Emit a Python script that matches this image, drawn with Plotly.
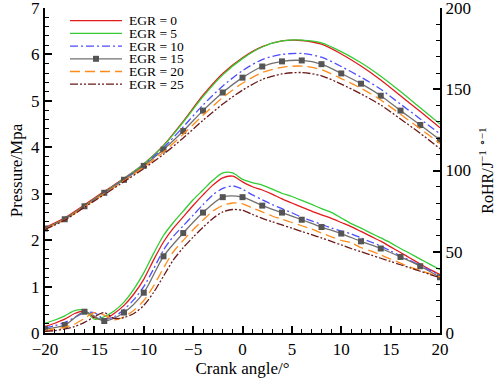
import plotly.graph_objects as go

# ---------------- data ----------------
labels = ["EGR = 0", "EGR = 5", "EGR = 10", "EGR = 15", "EGR = 20", "EGR = 25"]

# pressure (MPa), read every 2 degrees
angle_p = [-20, -18, -16, -14, -12, -10, -8, -6, -4, -2, 0, 2, 4, 6, 8, 10, 12, 14, 16, 18, 20]
p_egr0 = [2.27, 2.48, 2.76, 3.05, 3.33, 3.64, 4.04, 4.56, 5.12, 5.59, 5.93, 6.17, 6.29, 6.30, 6.22, 6.01, 5.75, 5.45, 5.11, 4.77, 4.42]
p_egr5 = [2.25, 2.46, 2.74, 3.03, 3.32, 3.64, 4.03, 4.54, 5.09, 5.56, 5.91, 6.16, 6.29, 6.31, 6.25, 6.06, 5.82, 5.53, 5.20, 4.85, 4.50]
p_egr10 = [2.25, 2.45, 2.73, 3.02, 3.31, 3.62, 3.99, 4.44, 4.91, 5.32, 5.65, 5.89, 6.00, 6.02, 5.94, 5.74, 5.51, 5.25, 4.93, 4.61, 4.29]
p_egr15 = [2.25, 2.45, 2.73, 3.02, 3.30, 3.60, 3.95, 4.35, 4.79, 5.18, 5.50, 5.74, 5.85, 5.87, 5.79, 5.59, 5.37, 5.11, 4.79, 4.48, 4.16]
p_egr20 = [2.24, 2.44, 2.72, 3.00, 3.28, 3.57, 3.90, 4.28, 4.69, 5.07, 5.38, 5.61, 5.72, 5.75, 5.67, 5.48, 5.27, 5.02, 4.71, 4.40, 4.08]
p_egr25 = [2.23, 2.43, 2.71, 2.98, 3.26, 3.54, 3.85, 4.20, 4.58, 4.93, 5.23, 5.46, 5.58, 5.61, 5.54, 5.36, 5.15, 4.91, 4.61, 4.30, 3.97]

# rate of heat release (J/deg), read every degree
angle_h = list(range(-20, 21))
h_egr0 = [4, 6, 8.5, 12, 13.5, 9.5, 8.5, 12, 17, 24, 33, 45, 56, 64.5, 71.5, 78.5, 85, 91, 95.5, 96.5, 93,
          90, 88, 85.5, 82.5, 80, 77.5, 75, 72.7, 70.5, 68, 65.5, 62.5, 59.5, 56.5, 53, 49.5, 46, 42.5, 39, 36]
h_egr5 = [6, 8, 10.5, 13.8, 14, 8.5, 10, 13.5, 19, 27, 37, 49, 60, 68, 75, 82, 88, 94, 98.5, 98.5, 94.5,
          92.5, 91, 88.5, 86, 84, 81.6, 79.1, 76.6, 74.2, 70.8, 67.3, 64.5, 61.5, 58.5, 55.5, 52, 48.8, 45.5, 42.2, 39]
h_egr10 = [3, 4.5, 6.5, 9.5, 12.5, 12.5, 8.5, 10, 14.5, 20.5, 28.5, 39.5, 51, 59.5, 66, 72.5, 79, 85, 89, 90.5, 88.5,
           85, 82, 79, 76.5, 74, 71.2, 69, 66.8, 64.6, 62.7, 61, 58.5, 56, 53.5, 50.5, 47.5, 44.5, 41.5, 38.5, 35.5]
h_egr15 = [2.5, 3.5, 4.9, 8.5, 13.1, 12.5, 7.4, 9, 12.6, 17.5, 24.8, 35, 47.2, 55.5, 61.5, 68, 74.1, 79.5, 83.6, 84.6, 83.6,
           81, 78.4, 76.2, 74.1, 71.9, 69.7, 67.4, 65.2, 63.2, 61.2, 58.8, 56.4, 54.2, 52, 49.4, 46.8, 44, 41.1, 37.7, 34.3]
h_egr20 = [1.5, 2.5, 3.5, 5.5, 9, 12.5, 11, 8, 10, 14, 20, 29, 40, 50, 57, 63.5, 69.5, 75, 78.5, 80, 79.5,
           77, 74.5, 72, 70, 68, 66, 64, 61.5, 59.2, 57, 55.5, 52.5, 50.5, 48, 45.5, 43, 40.5, 38.5, 36.5, 34.5]
h_egr25 = [1, 1.5, 2.5, 4, 6.5, 10, 12.5, 9, 9.5, 12, 17, 25, 35, 45, 52.5, 59, 65, 70.5, 74.5, 76, 75.5,
           73, 70.5, 68.5, 66.5, 64.5, 62.5, 60.5, 58.5, 56.4, 54.2, 52, 50, 48, 46, 44, 42, 40, 38, 36, 34]

# ---------------- style ----------------
colors = ["#e41a1c", "#33cc33", "#4d4dff", "#707070", "#ff8c1a", "#6b1a1a"]
dashes = ["solid", "solid", "8px,3px,2px,3px", "solid", "10px,5px", "8px,2px,2px,2px,2px,2px"]
p_series = [p_egr0, p_egr5, p_egr10, p_egr15, p_egr20, p_egr25]
h_series = [h_egr0, h_egr5, h_egr10, h_egr15, h_egr20, h_egr25]

serif = "Liberation Serif"
W, H = 500, 380
ML, MR, MT, MB = 45, 60, 8, 47
PW, PH = W - ML - MR, H - MT - MB

fig = go.Figure()
for i in range(6):
    gray = (i == 3)
    mk = dict(symbol="square", size=6, color="#555555")
    fig.add_trace(go.Scatter(
        x=angle_p, y=p_series[i], name=labels[i], showlegend=False,
        mode="lines+markers" if gray else "lines",
        line=dict(color=colors[i], width=1.3, dash=dashes[i], shape="spline", smoothing=0.8),
        marker=mk if gray else None, yaxis="y"))
    hx = angle_h[::2] if gray else angle_h
    hy = h_series[i][::2] if gray else h_series[i]
    fig.add_trace(go.Scatter(
        x=hx, y=hy, name=labels[i], showlegend=False,
        mode="lines+markers" if gray else "lines",
        line=dict(color=colors[i], width=1.3, dash=dashes[i], shape="spline", smoothing=0.8),
        marker=mk if gray else None, yaxis="y2"))

# compact legend key (inside plot, top-left)
def px_x(px):
    return (px - ML) / PW

def px_y(py):
    return (H - MB - py) / PH

shapes, annotations = [], []
leg_x0, leg_x1, leg_tx, leg_y0, leg_dy = 70, 122, 128, 20.7, 12.7
for i in range(6):
    yy = px_y(leg_y0 + i * leg_dy)
    shapes.append(dict(type="line", xref="paper", yref="paper", x0=px_x(leg_x0), x1=px_x(leg_x1),
                       y0=yy, y1=yy, line=dict(color=colors[i], width=1.3, dash=dashes[i])))
    if i == 3:
        cx, cy = (leg_x0 + leg_x1) / 2, leg_y0 + i * leg_dy
        shapes.append(dict(type="rect", xref="paper", yref="paper",
                           x0=px_x(cx - 3), x1=px_x(cx + 3), y0=px_y(cy + 3), y1=px_y(cy - 3),
                           fillcolor="#555555", line=dict(width=0)))
    annotations.append(dict(xref="paper", yref="paper", x=px_x(leg_tx), y=yy, text=labels[i],
                            showarrow=False, xanchor="left", yanchor="middle",
                            height=12.5, borderpad=0,
                            font=dict(family=serif, size=13.5, color="black")))

axis_common = dict(showline=True, linecolor="black", linewidth=2, ticks="inside",
                   tickcolor="black", tickwidth=1.5, ticklen=7, showgrid=False, zeroline=False,
                   automargin=False, ticklabeloverflow="allow",
                   tickfont=dict(family=serif, size=17, color="black"))

fig.update_layout(
    width=W, height=H,
    margin=dict(l=ML, r=MR, t=MT, b=MB),
    paper_bgcolor="white", plot_bgcolor="white",
    font=dict(family=serif, size=17, color="black"),
    showlegend=False,
    shapes=shapes, annotations=annotations,
    xaxis=dict(range=[-20, 20], dtick=5, tick0=0,
               minor=dict(dtick=1, ticks="inside", ticklen=4, tickcolor="black", tickwidth=1),
               title=dict(text="Crank angle/°", font=dict(family=serif, size=17), standoff=4),
               **axis_common),
    yaxis=dict(range=[0, 7], dtick=1,
               minor=dict(dtick=0.2, ticks="inside", ticklen=4, tickcolor="black", tickwidth=1),
               title=dict(text="Pressure/Mpa", font=dict(family=serif, size=17), standoff=4),
               **axis_common),
    yaxis2=dict(range=[0, 200], dtick=50, overlaying="y", side="right",
                minor=dict(dtick=10, ticks="inside", ticklen=4, tickcolor="black", tickwidth=1),
                title=dict(text="RoHR/J<sup>−1</sup> <sup>∘−1</sup>", font=dict(family=serif, size=16), standoff=12),
                **axis_common),
)

fig.write_html("out.html", config={"displayModeBar": False},
               post_script="document.body.style.margin='0px';document.body.style.padding='0px';")
